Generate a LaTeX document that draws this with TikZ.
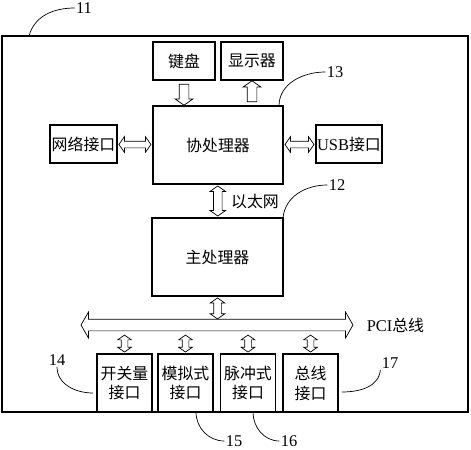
\documentclass[tikz,border=0pt]{standalone}
\usepackage{fontspec}
\setmainfont{Liberation Serif}[Scale=1.22]
\newfontfamily\cjk{Noto Sans CJK SC}[Scale=1.18]
\usetikzlibrary{shapes.arrows,positioning,calc}
\newcommand{\zh}{\cjk\fontsize{11.5pt}{17pt}\selectfont}

\begin{document}
\begin{tikzpicture}[x=0.03cm,y=-0.03cm,
  box/.style={draw,line width=1.6pt,fill=white,inner sep=0pt,font=\zh,align=center},
  dar/.style={double arrow,draw,line width=0.6pt,inner xsep=0pt,double arrow tip angle=110},
  sar/.style={single arrow,draw,line width=0.6pt,inner xsep=0pt,single arrow tip angle=110},
  lead/.style={line width=0.6pt},
  num/.style={font=\fontsize{11.5pt}{14pt}\selectfont,inner sep=1pt}]
  \useasboundingbox (0,0) rectangle (471,450);
  % system frame
  \draw[line width=1.1pt] (2,36) rectangle (468,412);

  % boxes
  \node[box,minimum width=1.86cm,minimum height=1.14cm] (kbd) at (184,61) {键盘};
  \node[box,minimum width=1.86cm,minimum height=1.14cm] (disp) at (252,61) {显示器};
  \node[box,minimum width=3.9cm,minimum height=2.34cm] (cop) at (218,145) {协处理器};
  \node[box,minimum width=2.0cm,minimum height=1.14cm] (net) at (83.5,144) {网络接口};
  \node[box,minimum width=1.98cm,minimum height=1.14cm] (usb) at (349,144) {{\rmfamily USB}接口};
  \node[box,minimum width=3.93cm,minimum height=2.34cm] (main) at (217.5,257) {主处理器};
  \node[box,minimum width=1.65cm,minimum height=1.74cm] (sw) at (124.5,383) {开关量\\接口};
  \node[box,minimum width=1.65cm,minimum height=1.74cm] (ana) at (185.5,383) {模拟式\\接口};
  \node[box,minimum width=1.65cm,minimum height=1.74cm] (pul) at (248,383) {脉冲式\\接口};
  \node[box,minimum width=1.65cm,minimum height=1.74cm] (bif) at (310.5,383) {总线\\接口};

  % hollow arrows
  \node[sar,rotate=-90,inner ysep=0.135cm,minimum height=0.63cm,minimum width=0.51cm,single arrow head extend=0.12cm]
    (a1) at ($(kbd.south)!0.5!(kbd.south |- cop.north)$) {};
  \node[sar,rotate=90,inner ysep=0.135cm,minimum height=0.63cm,minimum width=0.51cm,single arrow head extend=0.12cm]
    (a2) at ($(disp.south)!0.5!(disp.south |- cop.north)$) {};
  \node[dar,inner ysep=0.09cm,minimum height=0.96cm,minimum width=0.45cm,double arrow head extend=0.135cm]
    (a3) at ($(net.east)!0.5!(cop.west)$) {};
  \node[dar,inner ysep=0.09cm,minimum height=0.87cm,minimum width=0.45cm,double arrow head extend=0.135cm]
    (a4) at ($(cop.east)!0.5!(usb.west)$) {};
  \node[dar,rotate=90,inner ysep=0.12cm,minimum height=0.9cm,minimum width=0.45cm,double arrow head extend=0.105cm]
    (a5) at ($(cop.south)!0.5!(main.north)$) {};
  \node[font=\zh] (eth) at (255,202) {以太网};
  \node[dar,double arrow tip angle=120,inner ysep=0.165cm,minimum height=8.16cm,minimum width=0.75cm,double arrow head extend=0.21cm]
    (bus) at (217,325) {};
  \node[font=\zh,right=0.25cm of bus.east] (pci) {{\rmfamily PCI}总线};
  \node[dar,rotate=90,inner ysep=0.105cm,minimum height=0.63cm,minimum width=0.42cm,double arrow head extend=0.105cm]
    (a6) at ($(main.south)+(0,11.5)$) {};
  \foreach \b in {sw,ana,pul,bif}
    \node[dar,rotate=90,inner ysep=0.09cm,minimum height=0.51cm,minimum width=0.39cm,double arrow head extend=0.105cm]
      at ($(\b.north)+(0,-9.5)$) {};

  % reference numerals
  \node[num] (n11) at (84,8) {11};
  \node[num] (n13) at (335,72) {13};
  \node[num] (n12) at (337,185) {12};
  \node[num] (n14) at (57,360) {14};
  \node[num] (n15) at (234,441) {15};
  \node[num] (n16) at (289,441) {16};
  \node[num] (n17) at (390,363) {17};
  \coordinate (c11) at (29,36);
  \coordinate (c13) at (279,106);
  \coordinate (c12) at (283,218);
  \coordinate (c14) at (93,393);
  \coordinate (c15) at (196,412);
  \coordinate (c16) at (253,412);
  \coordinate (c17) at (342,392);
  \draw[lead] (c11) to[out=75,in=180] (n11.west);
  \draw[lead] (c13) to[out=90,in=180] (n13.west);
  \draw[lead] (c12) to[out=85,in=180] (n12.west);
  \draw[lead] (n14.south) to[out=-90,in=180] (c14);
  \draw[lead] (c15) to[out=-90,in=180] (n15.west);
  \draw[lead] (c16) to[out=-90,in=180] (n16.west);
  \draw[lead] (c17) to[out=0,in=-95] (n17.south west);
\end{tikzpicture}
\end{document}
